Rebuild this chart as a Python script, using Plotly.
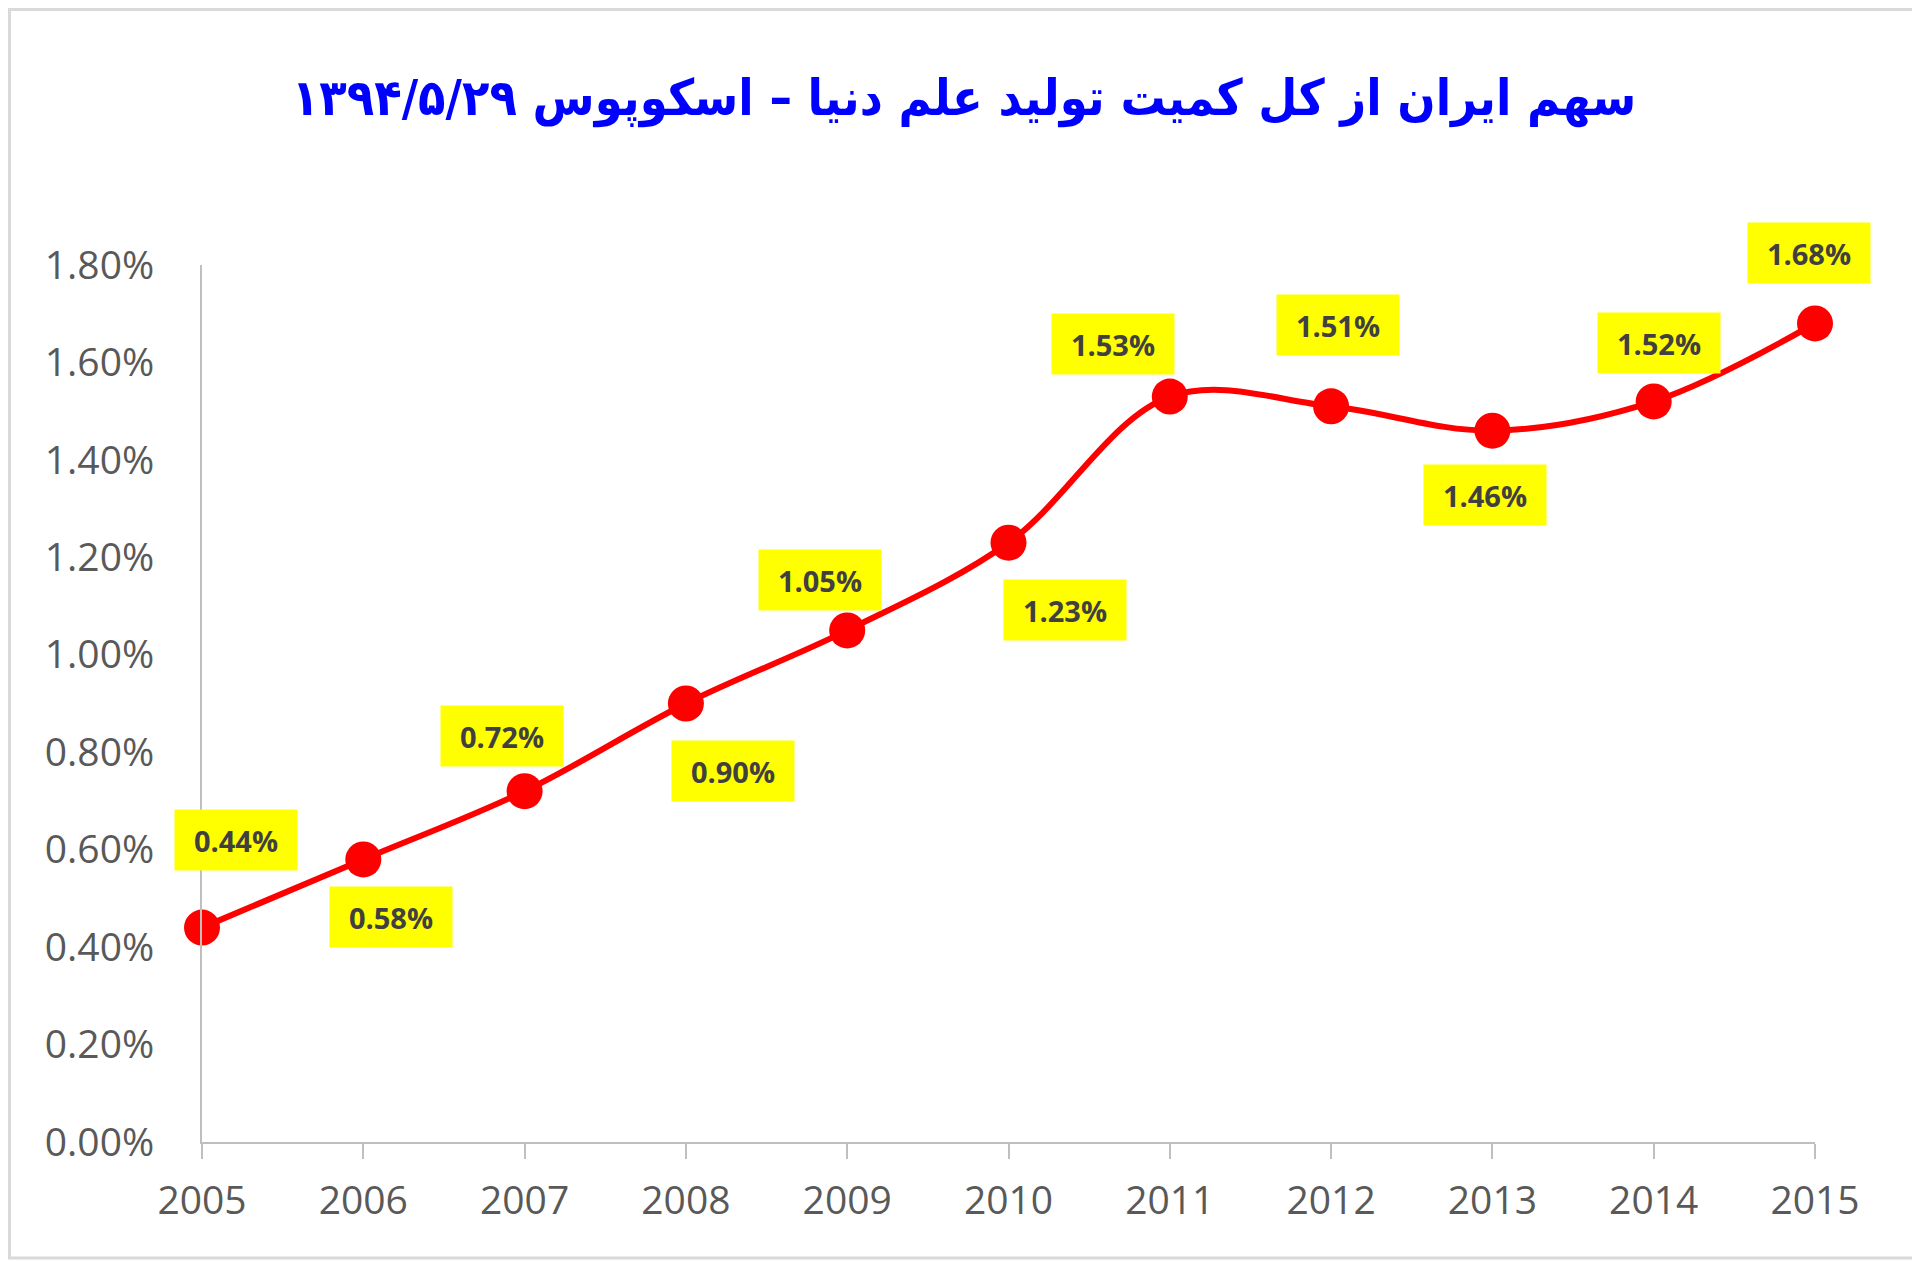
"""
Iran's share of world science output (Scopus), 2005-2015
"""
import plotly.graph_objects as go

years = [2005, 2006, 2007, 2008, 2009, 2010, 2011, 2012, 2013, 2014, 2015]
share = [0.0044, 0.0058, 0.0072, 0.0090, 0.0105, 0.0123, 0.0153, 0.0151, 0.0146, 0.0152, 0.0168]
title_text = "سهم ایران از کل کمیت تولید علم دنیا – اسکوپوس ۱۳۹۴/۵/۲۹"

# pixel offsets of each yellow label from its point (Excel placed them by hand)
label_dx = [34, 28, -23, 47, -27, 56, -57, 7, -7, 5, -6]
label_dy = [-88, 58, -55, 67, -50, 67, -53, -81, 64, -58, -70]

W, H = 1920, 1261
PAGE_OFF = 8  # the browser puts the plot 8px in from the page corner
ML, MT = 202 - PAGE_OFF, 265 - PAGE_OFF
PW, PH = 1613, 877
MR, MB = W - ML - PW, H - MT - PH
AXIS_GREY = "#BFBFBF"
TEXT_GREY = "#595959"

fig = go.Figure()
fig.add_trace(go.Scatter(
    x=years, y=share,
    mode="lines+markers",
    line=dict(color="#FF0000", width=6, shape="spline", smoothing=1),
    marker=dict(color="#FF0000", size=36),
    cliponaxis=False,
    showlegend=False,
))

for x, y, dx, dy in zip(years, share, label_dx, label_dy):
    fig.add_annotation(
        x=x, y=y, ax=dx, ay=dy,
        text="<b>{:.2%}</b>".format(y),
        showarrow=True, arrowcolor="rgba(0,0,0,0)", arrowwidth=0.1,
        bgcolor="#FFFF00", width=112, height=50, borderpad=5,
        font=dict(family="Open Sans", size=29, color="#404040"),
    )

# light grey frame round the whole chart
fig.add_shape(
    type="rect", xref="paper", yref="paper",
    x0=(1.5 - ML) / PW, x1=(W - PAGE_OFF - 3 - ML) / PW,
    y0=1 - (H - PAGE_OFF - 3 - MT) / PH, y1=1 + (MT - 1.5) / PH,
    line=dict(color="#D9D9D9", width=3),
)

fig.update_layout(
    width=W, height=H,
    margin=dict(l=ML, r=MR, t=MT, b=MB),
    paper_bgcolor="white", plot_bgcolor="white",
    title=dict(
        text="<b>" + title_text + "</b>",
        x=(964 - PAGE_OFF) / W, xref="container", xanchor="center",
        y=1 - (97 - PAGE_OFF) / H, yanchor="middle",
        font=dict(family="DejaVu Sans Condensed", size=50, color="#0000FF"),
    ),
    xaxis=dict(
        range=[2005, 2015], tickmode="array", tickvals=years,
        showgrid=False, zeroline=False,
        showline=True, linecolor=AXIS_GREY, linewidth=2,
        ticks="outside", ticklen=15, tickwidth=2, tickcolor=AXIS_GREY,
        ticklabelstandoff=8,
        tickfont=dict(family="Open Sans", size=39, color=TEXT_GREY),
    ),
    yaxis=dict(
        range=[0, 0.018], dtick=0.002, tickformat=".2%",
        showgrid=False, zeroline=False,
        showline=True, linecolor=AXIS_GREY, linewidth=2,
        ticks="", ticklabelstandoff=38,
        tickfont=dict(family="Open Sans", size=39, color=TEXT_GREY),
    ),
)

fig.write_html("out.html")
